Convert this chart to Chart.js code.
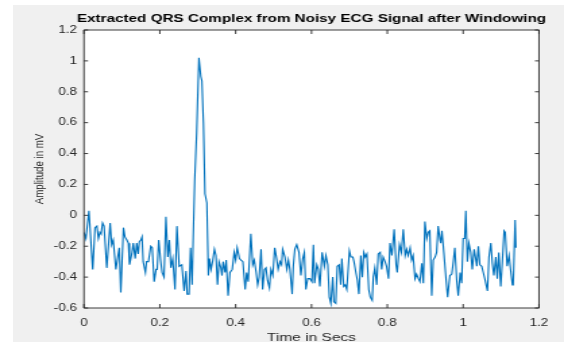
<!DOCTYPE html>
<html>
<head>
<meta charset="utf-8">
<script src="https://cdn.jsdelivr.net/npm/chart.js@4/dist/chart.umd.min.js"></script>
<style>
  html, body { margin: 0; padding: 0; background: #ffffff; overflow: hidden; }
  #figure { position: absolute; left: 13px; top: 5px; width: 551px; height: 337px; background: #f0f0f0; }
  /* the figure is rendered narrow and stretched horizontally, like an exported MATLAB figure */
  #wrap { position: absolute; left: 0; top: 0; width: 418px; height: 342px; transform: scaleX(1.3493); transform-origin: 0 0; }
</style>
</head>
<body>
<div id="figure"></div>
<div id="wrap"><canvas id="ecg"></canvas></div>
<script>
// Time axis of the windowed QRS segment (seconds)
const timeSec = [
  0, 0.005, 0.013, 0.023, 0.029, 0.034, 0.038, 0.042, 0.045, 0.049,
  0.053, 0.060, 0.069, 0.073, 0.077, 0.084, 0.093, 0.097, 0.104, 0.108,
  0.113, 0.117, 0.120, 0.126, 0.130, 0.135, 0.139, 0.143, 0.146, 0.150,
  0.153, 0.156, 0.162, 0.165, 0.170, 0.176, 0.180, 0.185, 0.190, 0.193,
  0.197, 0.202, 0.206, 0.211, 0.216, 0.221, 0.225, 0.229, 0.234, 0.240,
  0.245, 0.251, 0.258, 0.264, 0.269, 0.272, 0.277, 0.281, 0.285, 0.288,
  0.292, 0.297, 0.303, 0.308, 0.311, 0.315, 0.319, 0.324, 0.328, 0.331,
  0.335, 0.339, 0.344, 0.348, 0.352, 0.356, 0.361, 0.364, 0.367, 0.372,
  0.375, 0.380, 0.385, 0.391, 0.396, 0.400, 0.404, 0.410, 0.414, 0.419,
  0.425, 0.429, 0.433, 0.440, 0.445, 0.449, 0.454, 0.458, 0.462, 0.467,
  0.471, 0.476, 0.480, 0.484, 0.489, 0.493, 0.498, 0.503, 0.508, 0.512,
  0.517, 0.521, 0.524, 0.530, 0.535, 0.539, 0.543, 0.549, 0.552, 0.556,
  0.561, 0.567, 0.572, 0.577, 0.581, 0.585, 0.590, 0.596, 0.601, 0.605,
  0.608, 0.614, 0.618, 0.622, 0.628, 0.634, 0.638, 0.643, 0.647, 0.651,
  0.656, 0.659, 0.664, 0.668, 0.673, 0.677, 0.680, 0.685, 0.689, 0.693,
  0.700, 0.704, 0.709, 0.712, 0.717, 0.721, 0.725, 0.730, 0.734, 0.738,
  0.742, 0.746, 0.751, 0.755, 0.760, 0.763, 0.767, 0.772, 0.776, 0.781,
  0.785, 0.789, 0.794, 0.798, 0.803, 0.807, 0.812, 0.818, 0.823, 0.826,
  0.832, 0.837, 0.842, 0.847, 0.851, 0.855, 0.860, 0.864, 0.868, 0.873,
  0.877, 0.882, 0.886, 0.891, 0.895, 0.899, 0.904, 0.908, 0.912, 0.917,
  0.921, 0.926, 0.930, 0.934, 0.939, 0.941, 0.944, 0.949, 0.955, 0.959,
  0.965, 0.970, 0.974, 0.978, 0.983, 0.987, 0.992, 0.996, 1.000, 1.004,
  1.007, 1.011, 1.015, 1.020, 1.024, 1.029, 1.033, 1.036, 1.040, 1.044,
  1.049, 1.053, 1.058, 1.064, 1.068, 1.073, 1.077, 1.081, 1.086, 1.090,
  1.094, 1.099, 1.103, 1.108, 1.111, 1.116, 1.121, 1.125, 1.130, 1.132,
  1.137, 1.139
];

// Amplitude of the extracted complex (mV)
const amplitudeMv = [
  -0.11, -0.15, 0.03, -0.35, -0.08, -0.07, -0.15, -0.11, -0.12, -0.05,
  -0.07, -0.34, -0.05, -0.19, -0.16, -0.35, -0.21, -0.50, -0.08, -0.14,
  -0.16, -0.18, -0.32, -0.25, -0.18, -0.28, -0.18, -0.25, -0.17, -0.16,
  -0.14, -0.30, -0.37, -0.30, -0.30, -0.20, -0.21, -0.43, -0.35, -0.35,
  -0.16, -0.29, -0.37, -0.40, -0.01, -0.27, -0.16, -0.34, -0.28, -0.48,
  -0.07, -0.33, -0.32, -0.49, -0.36, -0.51, -0.51, -0.21, -0.45, -0.14,
  0.23, 0.53, 1.02, 0.90, 0.87, 0.60, 0.14, 0.08, -0.39, -0.28,
  -0.35, -0.30, -0.22, -0.26, -0.45, -0.30, -0.34, -0.39, -0.30, -0.37,
  -0.29, -0.52, -0.37, -0.35, -0.24, -0.29, -0.21, -0.28, -0.29, -0.30,
  -0.48, -0.37, -0.43, -0.12, -0.32, -0.29, -0.37, -0.45, -0.40, -0.22,
  -0.48, -0.35, -0.34, -0.42, -0.47, -0.35, -0.39, -0.21, -0.28, -0.35,
  -0.30, -0.32, -0.22, -0.27, -0.35, -0.29, -0.35, -0.51, -0.33, -0.22,
  -0.19, -0.24, -0.39, -0.28, -0.24, -0.48, -0.41, -0.41, -0.43, -0.19,
  -0.44, -0.32, -0.35, -0.46, -0.24, -0.33, -0.26, -0.32, -0.53, -0.57,
  -0.40, -0.56, -0.57, -0.33, -0.32, -0.45, -0.28, -0.46, -0.45, -0.48,
  -0.23, -0.27, -0.27, -0.30, -0.37, -0.42, -0.51, -0.26, -0.40, -0.24,
  -0.27, -0.25, -0.48, -0.53, -0.55, -0.40, -0.34, -0.45, -0.25, -0.24,
  -0.35, -0.27, -0.30, -0.33, -0.41, -0.18, -0.26, -0.09, -0.32, -0.37,
  -0.19, -0.24, -0.09, -0.26, -0.22, -0.26, -0.21, -0.29, -0.26, -0.41,
  -0.38, -0.41, -0.43, -0.31, -0.44, -0.04, -0.15, -0.11, -0.10, -0.52,
  -0.29, -0.27, -0.24, -0.07, -0.16, -0.18, -0.10, -0.24, -0.42, -0.53,
  -0.39, -0.38, -0.30, -0.21, -0.42, -0.52, -0.37, -0.44, -0.15, -0.15,
  0.03, -0.30, -0.18, -0.24, -0.35, -0.22, -0.28, -0.33, -0.20, -0.32,
  -0.33, -0.37, -0.42, -0.49, -0.27, -0.18, -0.31, -0.39, -0.27, -0.41,
  -0.24, -0.46, -0.31, -0.10, -0.11, -0.33, -0.26, -0.35, -0.45, -0.45,
  -0.03, -0.21
];

const xTickValues = [0, 0.2, 0.4, 0.6, 0.8, 1, 1.2];
const yTickValues = [-0.6, -0.4, -0.2, 0, 0.2, 0.4, 0.6, 0.8, 1, 1.2];

const chartTitle = 'Extracted QRS Complex from Noisy ECG Signal after Windowing';
const xLabel = 'Time in Secs';
const yLabel = 'Amplitude in mV';

const FONT = '"Liberation Sans", Arial, Helvetica, sans-serif';
const AXIS_COLOR = '#262626';
const LINE_COLOR = '#0072BD';

const fmtTick = v => (Math.abs(v) < 1e-9 ? '0' : String(+Number(v).toFixed(1)));

// White axes box, MATLAB-style inward ticks on all four sides, and the bold title
const axesDecor = {
  id: 'axesDecor',
  beforeDraw(chart) {
    const { ctx, chartArea: a } = chart;
    ctx.save();
    ctx.fillStyle = '#ffffff';
    ctx.fillRect(a.left, a.top, a.right - a.left, a.bottom - a.top);
    ctx.restore();
  },
  afterDraw(chart) {
    const { ctx, chartArea: a, scales } = chart;
    const xs = scales.x, ys = scales.y;
    ctx.save();
    ctx.strokeStyle = AXIS_COLOR;
    ctx.lineWidth = 0.9;
    ctx.beginPath();
    ctx.rect(a.left, a.top, a.right - a.left, a.bottom - a.top);
    xTickValues.forEach(v => {
      const px = xs.getPixelForValue(v);
      ctx.moveTo(px, a.bottom); ctx.lineTo(px, a.bottom - 4);
      ctx.moveTo(px, a.top); ctx.lineTo(px, a.top + 4);
    });
    yTickValues.forEach(v => {
      const py = ys.getPixelForValue(v);
      ctx.moveTo(a.left, py); ctx.lineTo(a.left + 3, py);
      ctx.moveTo(a.right, py); ctx.lineTo(a.right - 3, py);
    });
    ctx.stroke();

    ctx.fillStyle = '#000000';
    ctx.font = 'bold 11.3px ' + FONT;
    ctx.textAlign = 'center';
    ctx.textBaseline = 'middle';
    ctx.fillText(chartTitle, (a.left + a.right) / 2, 18.8);
    ctx.restore();
  }
};

new Chart(document.getElementById('ecg'), {
  type: 'line',
  data: {
    datasets: [{
      data: timeSec.map((t, i) => ({ x: t, y: amplitudeMv[i] })),
      borderColor: LINE_COLOR,
      borderWidth: 1.1,
      pointRadius: 0,
      tension: 0,
      fill: false
    }]
  },
  options: {
    responsive: true,
    maintainAspectRatio: false,
    animation: false,
    devicePixelRatio: 1,
    layout: { padding: { left: 0, right: 18.54, top: 30, bottom: 0 } },
    plugins: { legend: { display: false }, tooltip: { enabled: false }, title: { display: false } },
    scales: {
      x: {
        type: 'linear',
        min: 0, max: 1.2,
        afterBuildTicks: s => { s.ticks = xTickValues.map(v => ({ value: v })); },
        afterFit: s => { s.height = 34; },
        grid: { display: false, drawTicks: false },
        border: { display: false },
        ticks: { padding: 9, color: AXIS_COLOR, font: { family: FONT, size: 10 }, maxRotation: 0, autoSkip: false, callback: fmtTick },
        title: { display: true, text: xLabel, color: AXIS_COLOR, font: { family: FONT, size: 11.5, lineHeight: 0.8 }, padding: 0 }
      },
      y: {
        type: 'linear',
        min: -0.6, max: 1.2,
        afterBuildTicks: s => { s.ticks = yTickValues.map(v => ({ value: v })); },
        afterFit: s => { s.width = 62.25; },
        grid: { display: false, drawTicks: false },
        border: { display: false },
        ticks: { padding: 5.2, color: AXIS_COLOR, font: { family: FONT, size: 10 }, autoSkip: false, callback: fmtTick },
        title: { display: true, text: yLabel, color: AXIS_COLOR, font: { family: FONT, size: 9.7 }, padding: { top: 23.5, bottom: 0 } }
      }
    }
  },
  plugins: [axesDecor]
});
</script>
</body>
</html>
